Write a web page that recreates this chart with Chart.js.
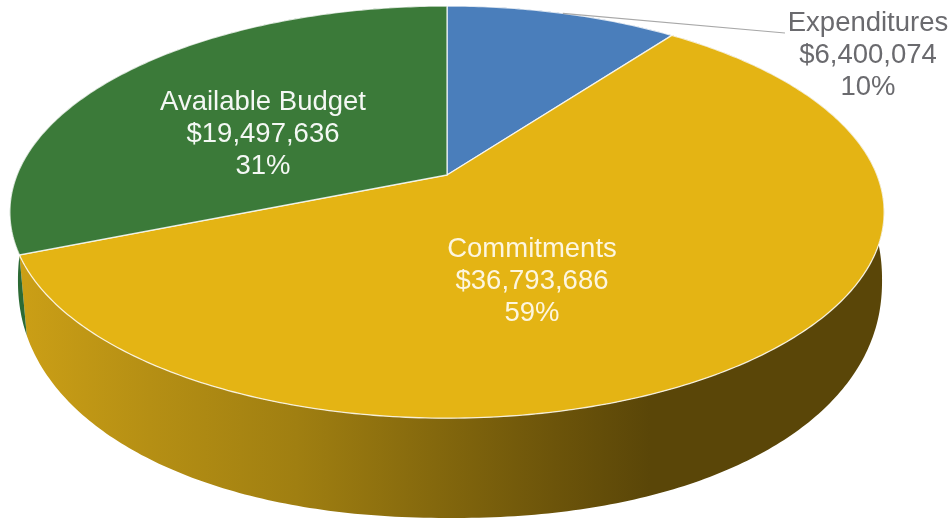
<!DOCTYPE html>
<html>
<head>
<meta charset="utf-8">
<style>
  html, body { margin: 0; padding: 0; background: #fff; }
  canvas { display: block; }
</style>
<script src="https://cdn.jsdelivr.net/npm/chart.js@4/dist/chart.umd.js"></script>
</head>
<body>
<canvas id="budget-pie" width="951" height="520"></canvas>
<script>
const categories = ['Expenditures', 'Commitments', 'Available Budget'];
const amounts = [6400074, 36793686, 19497636];
const sliceColors = ['#4a7ebb', '#e4b414', '#3b7a39'];
const wallColors = ['#2f5a8a', null, '#2c6a34'];

// circle -> tilted disc, top face and bottom rim of the pie
const topFace = { cx: 447, cy: 175, a: 430, b: 199.4, k: -0.18 };
const bottomRim = { cx: 450, cy: 237.5, a: 425, b: 230, k: -0.18, midY: 280.3, rx: 432, ry: 237.7, n: 2.15 };

function project(disc, angle) {
    const u = Math.cos(angle), v = Math.sin(angle);
    const w = 1 + disc.k * v;
    const x = disc.cx + disc.a * u / w, y = disc.cy + disc.b * v / w;
    if (!disc.n) return { x, y };
    // the lower rim in the picture is a bit squarer than an ellipse
    const p = (x - disc.cx) / disc.rx, q = (y - disc.midY) / disc.ry;
    return {
        x: disc.cx + disc.rx * Math.sign(p) * Math.pow(Math.abs(p), 2 / disc.n),
        y: disc.midY + disc.ry * Math.sign(q) * Math.pow(Math.abs(q), 2 / disc.n)
    };
}

function traceRim(ctx, disc, from, to, first) {
    const steps = Math.max(8, Math.ceil(Math.abs(to - from) * 80));
    for (let i = 0; i <= steps; i++) {
        const p = project(disc, from + (to - from) * i / steps);
        if (i === 0 && first) ctx.moveTo(p.x, p.y);
        else ctx.lineTo(p.x, p.y);
    }
}

function wallGradient(ctx) {
    const g = ctx.createLinearGradient(20, 0, 884, 0);
    g.addColorStop(0, '#cb9f16');
    g.addColorStop(0.15, '#b58f14');
    g.addColorStop(0.32, '#a07f11');
    g.addColorStop(0.48, '#84680d');
    g.addColorStop(0.62, '#6c540a');
    g.addColorStop(0.73, '#5a4608');
    g.addColorStop(1, '#5a4608');
    return g;
}

function drawLabel(ctx, lines, x, y, color) {
    ctx.fillStyle = color;
    ctx.textAlign = 'center';
    ctx.textBaseline = 'middle';
    ctx.font = '27.5px "Liberation Sans", Arial, sans-serif';
    ctx.fillText(lines[0], x, y[0]);
    ctx.fillText(lines[1], x, y[1]);
    ctx.fillText(lines[2], x, y[2]);
}

const tiltedPie = {
    id: 'tiltedPie',
    beforeDatasetsDraw(chart) {
        const ctx = chart.ctx;
        const arcs = chart.getDatasetMeta(0).data;
        const total = amounts.reduce((s, n) => s + n, 0);
        const texts = categories.map((name, i) => [
            name,
            '$' + amounts[i].toLocaleString('en-US'),
            Math.round(amounts[i] / total * 100) + '%'
        ]);

        ctx.save();
        // side walls first, the faces cover whatever is behind them
        arcs.forEach((arc, i) => {
            ctx.beginPath();
            traceRim(ctx, topFace, arc.startAngle, arc.endAngle, true);
            traceRim(ctx, bottomRim, arc.endAngle, arc.startAngle, false);
            ctx.closePath();
            ctx.fillStyle = wallColors[i] || wallGradient(ctx);
            ctx.fill();
        });

        arcs.forEach((arc, i) => {
            ctx.beginPath();
            ctx.moveTo(topFace.cx, topFace.cy);
            traceRim(ctx, topFace, arc.startAngle, arc.endAngle, false);
            ctx.closePath();
            ctx.fillStyle = sliceColors[i];
            ctx.fill();
            ctx.strokeStyle = 'rgba(255,255,255,0.8)';
            ctx.lineWidth = 1.3;
            ctx.stroke();
        });

        // leader line of the small slice
        const mid = project(topFace, (arcs[0].startAngle + arcs[0].endAngle) / 2);
        ctx.beginPath();
        ctx.moveTo(mid.x, mid.y);
        ctx.lineTo(785, 33);
        ctx.strokeStyle = '#a8a8a8';
        ctx.lineWidth = 1.2;
        ctx.stroke();

        drawLabel(ctx, texts[0], 868, [23, 55, 87], '#6a6a6e');
        drawLabel(ctx, texts[1], 532, [249, 281, 313], '#fdf6e0');
        drawLabel(ctx, texts[2], 263, [102, 134, 166], '#f4f8f4');
        ctx.restore();
        return false;
    }
};

new Chart(document.getElementById('budget-pie').getContext('2d'), {
    type: 'pie',
    data: {
        labels: categories,
        datasets: [{ data: amounts, backgroundColor: sliceColors, borderWidth: 0 }]
    },
    options: {
        responsive: false,
        animation: false,
        plugins: { legend: { display: false }, tooltip: { enabled: false } }
    },
    plugins: [tiltedPie]
});
</script>
</body>
</html>
